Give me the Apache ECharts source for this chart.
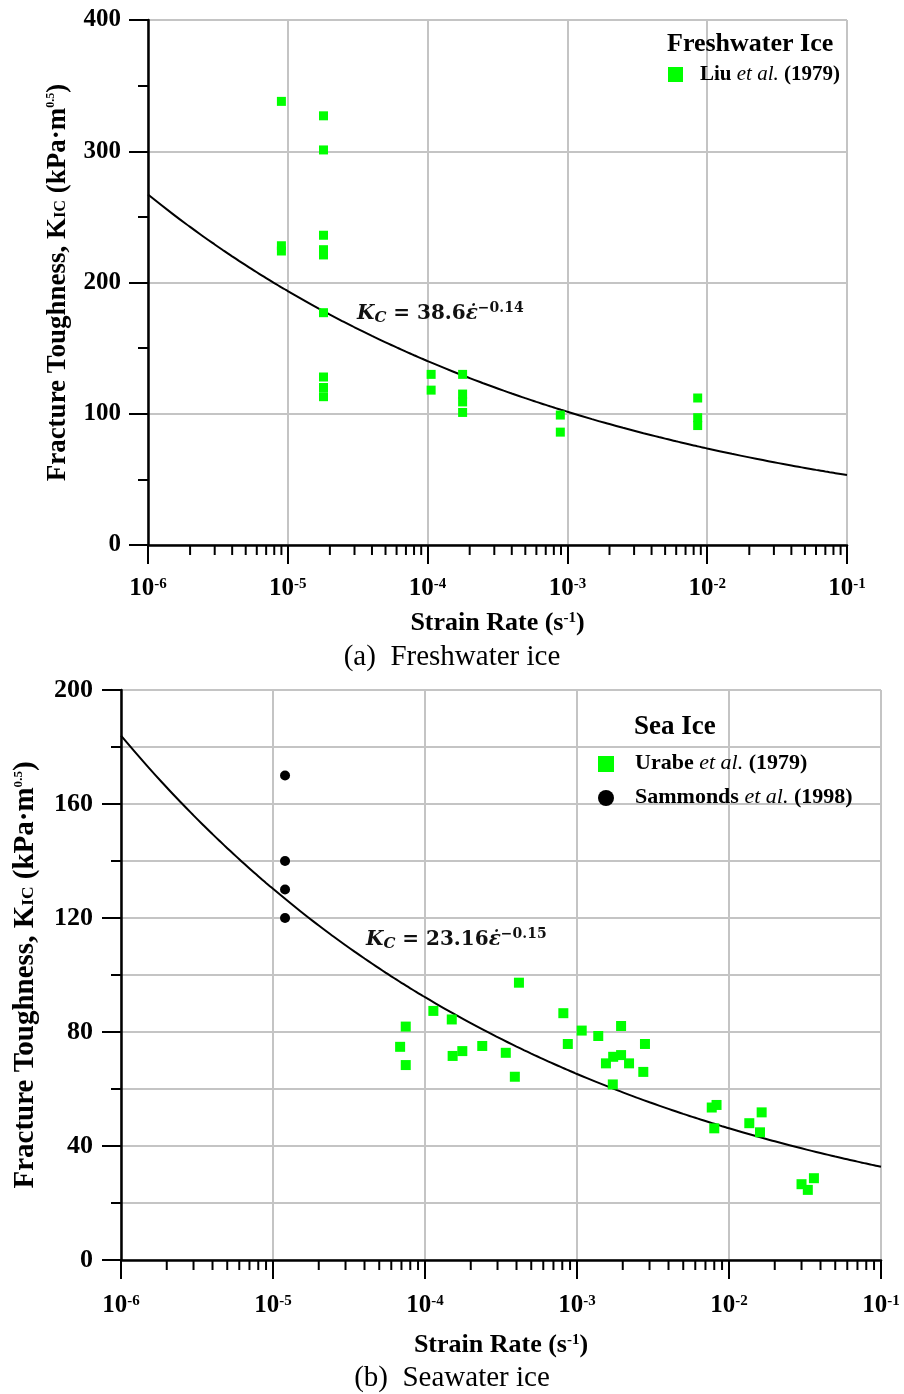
<!DOCTYPE html>
<html><head><meta charset="utf-8">
<script src="https://cdn.jsdelivr.net/npm/echarts@6/dist/echarts.min.js"></script>
<style>html,body{margin:0;padding:0;background:#fff}#c{width:904px;height:1394px}</style>
</head><body><div id="c"></div>
<script>
// ---------- data ----------
const decadeExps = [-6, -5, -4, -3, -2, -1];
const minorMultipliers = [2, 3, 4, 5, 6, 7, 8, 9];
const yTicksTop = [0, 100, 200, 300, 400];
const yTicksBottom = [0, 40, 80, 120, 160, 200];

// Freshwater ice: Liu et al. (1979)  [strain rate, K_IC]
const liu = [
  [9e-6, 338], [9e-6, 228], [9e-6, 224],
  [1.8e-5, 327], [1.8e-5, 301], [1.8e-5, 236], [1.8e-5, 225], [1.8e-5, 221],
  [1.8e-5, 177], [1.8e-5, 128], [1.8e-5, 120], [1.8e-5, 113],
  [1.06e-4, 130], [1.06e-4, 118],
  [1.78e-4, 130], [1.78e-4, 115], [1.78e-4, 109], [1.78e-4, 101],
  [8.9e-4, 99], [8.9e-4, 86],
  [8.55e-3, 112], [8.55e-3, 97], [8.55e-3, 91]
];
// Sea ice: Urabe et al. (1979)
const urabe = [
  [7.47e-5, 81.9], [6.86e-5, 74.8], [7.47e-5, 68.4], [1.135e-4, 87.4], [1.5e-4, 84.4],
  [1.52e-4, 71.6], [1.76e-4, 73.3], [2.38e-4, 75.1], [3.4e-4, 72.7], [3.9e-4, 64.3],
  [4.15e-4, 97.3], [8.13e-4, 86.6], [8.7e-4, 75.8], [1.074e-3, 80.5], [1.38e-3, 78.6],
  [1.95e-3, 82.1], [2.8e-3, 75.8], [1.55e-3, 69], [1.73e-3, 71.3], [1.95e-3, 71.9],
  [2.2e-3, 69], [2.73e-3, 66], [1.72e-3, 61.6], [7.7e-3, 53.5], [8.28e-3, 54.4],
  [8.0e-3, 46.2], [1.36e-2, 48], [1.64e-2, 51.8], [1.6e-2, 44.8], [3.0e-2, 26.6],
  [3.62e-2, 28.7], [3.3e-2, 24.6]
];
// Sea ice: Sammonds et al. (1998)
const sammonds = [[1.2e-5, 170], [1.2e-5, 140], [1.2e-5, 130], [1.2e-5, 120]];

// fitted power laws shown on the chart: K = a * rate^b
const fitFresh = { a: 38.6, b: -0.14 };
const fitSea = { a: 23.16, b: -0.15 };

// ---------- helpers ----------
const SERIF = 'Liberation Serif';
const GREEN = '#00ff00';
const GRID = '#c4c4c4';
const sampleRates = [];
decadeExps.forEach(e => {
  if (e === -1) { sampleRates.push(Math.pow(10, e)); return; }
  for (let m = 1; m < 10; m += 0.5) sampleRates.push(m * Math.pow(10, e));
});
const fitLine = f => sampleRates.map(r => [r, f.a * Math.pow(r, f.b)]);
const minorTicks = [];
decadeExps.slice(0, -1).forEach(e => minorMultipliers.forEach(m => minorTicks.push([m * Math.pow(10, e), 0])));

function xAxisCfg(gridIndex, labelMargin, nameGap) {
  return {
    type: 'log', logBase: 10, gridIndex, min: 1e-6, max: 1e-1, splitNumber: 5,
    axisLine: { show: true, onZero: false, lineStyle: { color: '#000', width: 2.5 } },
    axisTick: { show: true, length: 19, lineStyle: { color: '#000', width: 2 } },
    splitLine: { show: true, lineStyle: { color: GRID, width: 2 } },
    axisLabel: {
      margin: labelMargin,
      formatter: v => '{b|10}{s|' + Math.round(Math.log10(v)) + '}',
      rich: {
        b: { fontFamily: SERIF, fontWeight: 'bold', fontSize: 25, color: '#000', lineHeight: 28 },
        s: { fontFamily: SERIF, fontWeight: 'bold', fontSize: 15, color: '#000', lineHeight: 28, padding: [0, 0, 10, 0] }
      }
    },
    name: '{b|Strain Rate (s}{s|-1}{b|)}',
    nameLocation: 'middle', nameGap,
    nameTextStyle: {
      rich: {
        b: { fontFamily: SERIF, fontWeight: 'bold', fontSize: 26, color: '#000', lineHeight: 28 },
        s: { fontFamily: SERIF, fontWeight: 'bold', fontSize: 15, color: '#000', lineHeight: 28, padding: [0, 0, 10, 0] }
      }
    }
  };
}
function yAxisCfg(gridIndex, ticks, minorSplit, labelMargin, nameGap, nameSize, labelSize) {
  return {
    type: 'value', gridIndex, min: ticks[0], max: ticks[ticks.length - 1],
    interval: ticks[1] - ticks[0],
    axisLine: { show: true, onZero: false, lineStyle: { color: '#000', width: 2.5 } },
    axisTick: { show: true, length: 19, lineStyle: { color: '#000', width: 2 } },
    minorTick: { show: true, splitNumber: 2, length: 10, lineStyle: { color: '#000', width: 2 } },
    splitLine: { show: true, lineStyle: { color: GRID, width: 2 } },
    minorSplitLine: { show: minorSplit, lineStyle: { color: GRID, width: 2 } },
    axisLabel: { margin: labelMargin, fontFamily: SERIF, fontWeight: 'bold', fontSize: labelSize, color: '#000' },
    name: '{b|Fracture Toughness, K}{sub|IC}{b| (kPa·m}{sup|0.5}{b|)}',
    nameLocation: 'middle', nameRotate: 90, nameGap,
    nameTextStyle: {
      rich: {
        b: { fontFamily: SERIF, fontWeight: 'bold', fontSize: nameSize, color: '#000', lineHeight: 30 },
        sub: { fontFamily: SERIF, fontWeight: 'bold', fontSize: nameSize * 0.6, color: '#000', lineHeight: 30, padding: [6, 0, 0, 0] },
        sup: { fontFamily: SERIF, fontWeight: 'bold', fontSize: nameSize * 0.45, color: '#000', lineHeight: 30, padding: [0, 0, 14, 0] }
      }
    }
  };
}
function eqText(left, top, coef, expo) {
  return {
    type: 'text', left, top, z: 20,
    style: {
      text: '{k|K}{c|C}{n| = ' + coef + '}{e|ε̇}{p|−' + expo + '}',
      rich: {
        k: { fontFamily: 'DejaVu Serif', fontStyle: 'italic', fontWeight: 'bold', fontSize: 20, fill: '#111', lineHeight: 30 },
        c: { fontFamily: 'DejaVu Serif', fontStyle: 'italic', fontWeight: 'bold', fontSize: 15, fill: '#111', lineHeight: 30, padding: [8, 0, 0, 0] },
        n: { fontFamily: 'DejaVu Serif', fontWeight: 'bold', fontSize: 20, fill: '#111', lineHeight: 30 },
        e: { fontFamily: 'DejaVu Serif', fontStyle: 'italic', fontWeight: 'bold', fontSize: 20, fill: '#111', lineHeight: 30 },
        p: { fontFamily: 'DejaVu Serif', fontWeight: 'bold', fontSize: 14, fill: '#111', lineHeight: 30, padding: [0, 0, 12, 0] }
      }
    }
  };
}
function legendItem(x, y, label, year, size) {
  return {
    type: 'text', left: x, top: y, z: 20,
    style: {
      text: '{b|' + label + ' }{i|et al.}{b| (' + year + ')}',
      rich: {
        b: { fontFamily: SERIF, fontWeight: 'bold', fontSize: size, fill: '#000' },
        i: { fontFamily: SERIF, fontStyle: 'italic', fontSize: size, fill: '#000' }
      }
    }
  };
}
function caption(cx, cy, text) {
  return { type: 'text', x: cx, y: cy, z: 20,
    style: { text, fontFamily: SERIF, fontSize: 29, fill: '#000', align: 'center', verticalAlign: 'middle' } };
}

const option = {
  backgroundColor: '#fff',
  animation: false,
  grid: [
    { left: 148, top: 20, width: 699, height: 525, containLabel: false, outerBoundsMode: 'none' },
    { left: 121, top: 690, width: 760, height: 570, containLabel: false, outerBoundsMode: 'none' }
  ],
  xAxis: [xAxisCfg(0, 30, 64), xAxisCfg(1, 32, 71)],
  yAxis: [yAxisCfg(0, yTicksTop, false, 27, 75, 27, 25), yAxisCfg(1, yTicksBottom, true, 28, 80, 29, 26)],
  series: [
    { type: 'line', xAxisIndex: 0, yAxisIndex: 0, data: fitLine(fitFresh), showSymbol: false, smooth: true, lineStyle: { color: '#000', width: 2 }, z: 3 },
    { type: 'scatter', name: 'Liu et al. (1979)', xAxisIndex: 0, yAxisIndex: 0, data: liu, symbol: 'rect', symbolSize: 9, itemStyle: { color: GREEN, opacity: 1 }, z: 4 },
    { type: 'scatter', xAxisIndex: 0, yAxisIndex: 0, data: minorTicks, symbol: 'rect', symbolSize: [2, 10], symbolOffset: [0, 5], itemStyle: { color: '#000', opacity: 1 }, clip: false, silent: true, z: 6 },
    { type: 'line', xAxisIndex: 1, yAxisIndex: 1, data: fitLine(fitSea), showSymbol: false, smooth: true, lineStyle: { color: '#000', width: 2 }, z: 3 },
    { type: 'scatter', name: 'Urabe et al. (1979)', xAxisIndex: 1, yAxisIndex: 1, data: urabe, symbol: 'rect', symbolSize: 10, itemStyle: { color: GREEN, opacity: 1 }, z: 4 },
    { type: 'scatter', name: 'Sammonds et al. (1998)', xAxisIndex: 1, yAxisIndex: 1, data: sammonds, symbol: 'circle', symbolSize: 10, itemStyle: { color: '#000', opacity: 1 }, z: 4 },
    { type: 'scatter', xAxisIndex: 1, yAxisIndex: 1, data: minorTicks, symbol: 'rect', symbolSize: [2, 10], symbolOffset: [0, 5], itemStyle: { color: '#000', opacity: 1 }, clip: false, silent: true, z: 6 }
  ],
  graphic: [
    // top legend
    { type: 'text', left: 667, top: 31, z: 20, style: { text: 'Freshwater Ice', fontFamily: SERIF, fontWeight: 'bold', fontSize: 26, fill: '#000' } },
    { type: 'rect', left: 668, top: 67, z: 20, shape: { width: 15, height: 15 }, style: { fill: GREEN } },
    legendItem(700, 64, 'Liu', '1979', 21),
    eqText(357, 301, '38.6', '0.14'),
    // bottom legend
    { type: 'text', left: 634, top: 714, z: 20, style: { text: 'Sea Ice', fontFamily: SERIF, fontWeight: 'bold', fontSize: 27, fill: '#000' } },
    { type: 'rect', left: 598, top: 756, z: 20, shape: { width: 16, height: 16 }, style: { fill: GREEN } },
    legendItem(635, 752, 'Urabe', '1979', 22),
    { type: 'circle', left: 598, top: 790, z: 20, shape: { r: 8 }, style: { fill: '#000' } },
    legendItem(635, 786, 'Sammonds', '1998', 22),
    eqText(366, 927, '23.16', '0.15'),
    // captions
    caption(452, 657, '(a)  Freshwater ice'),
    caption(452, 1378, '(b)  Seawater ice')
  ]
};
const chart = echarts.init(document.getElementById('c'), null, { renderer: 'canvas' });
chart.setOption(option);
</script>
</body></html>
